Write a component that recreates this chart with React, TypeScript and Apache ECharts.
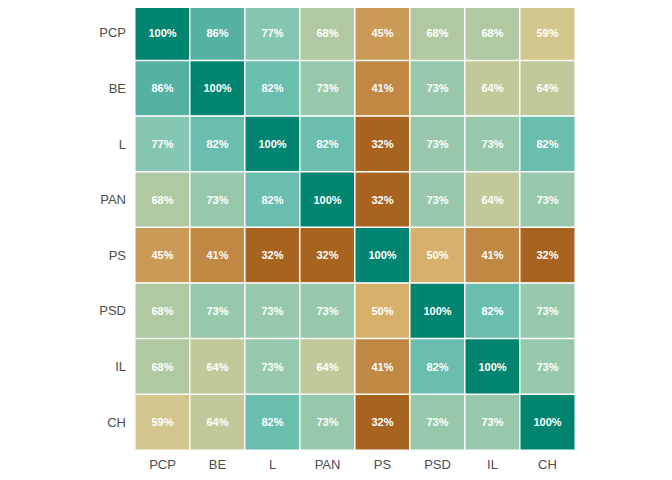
import { useEffect, useRef } from "react";
import * as echarts from "echarts";

const parties = ["PCP", "BE", "L", "PAN", "PS", "PSD", "IL", "CH"];
const agreement = [
  [100, 86, 77, 68, 45, 68, 68, 59],
  [86, 100, 82, 73, 41, 73, 64, 64],
  [77, 82, 100, 82, 32, 73, 73, 82],
  [68, 73, 82, 100, 32, 73, 64, 73],
  [45, 41, 32, 32, 100, 50, 41, 32],
  [68, 73, 73, 73, 50, 100, 82, 73],
  [68, 64, 73, 64, 41, 82, 100, 73],
  [59, 64, 82, 73, 32, 73, 73, 100],
];

export default function App() {
  const ref = useRef<HTMLDivElement>(null);

  useEffect(() => {
    if (!ref.current) return;
    const chart = echarts.init(ref.current, null, { renderer: "svg" });
    const data: [number, number, number][] = [];
    agreement.forEach((row, y) => row.forEach((v, x) => data.push([x, y, v])));
    const axisLabel = { color: "#4d4d4d", fontSize: 13, fontFamily: "Liberation Sans" };
    chart.setOption({
      animation: false,
      grid: { left: 135, top: 5, width: 440, height: 445 },
      xAxis: {
        type: "category",
        data: parties,
        axisLine: { show: false },
        axisTick: { show: false },
        axisLabel: { ...axisLabel, margin: 8 },
      },
      yAxis: {
        type: "category",
        data: parties,
        inverse: true,
        axisLine: { show: false },
        axisTick: { show: false },
        axisLabel: { ...axisLabel, margin: 9 },
      },
      visualMap: {
        show: false,
        min: 30,
        max: 100,
        inRange: {
          color: ["#a25c16", "#be8340", "#d7b06b", "#d2c890", "#a8c9a8", "#74c4b5", "#40a594", "#018571"],
        },
      },
      series: [
        {
          type: "heatmap",
          data,
          itemStyle: { borderColor: "#ffffff", borderWidth: 1.5 },
          label: {
            show: true,
            formatter: (p: any) => p.value[2] + "%",
            color: "#ffffff",
            fontWeight: "bold",
            fontSize: 11,
            fontFamily: "Liberation Sans",
          },
        },
      ],
    });
    return () => chart.dispose();
  }, []);

  return <div ref={ref} style={{ width: 672, height: 480, margin: "-8px 0 0 -8px" }} />;
}
